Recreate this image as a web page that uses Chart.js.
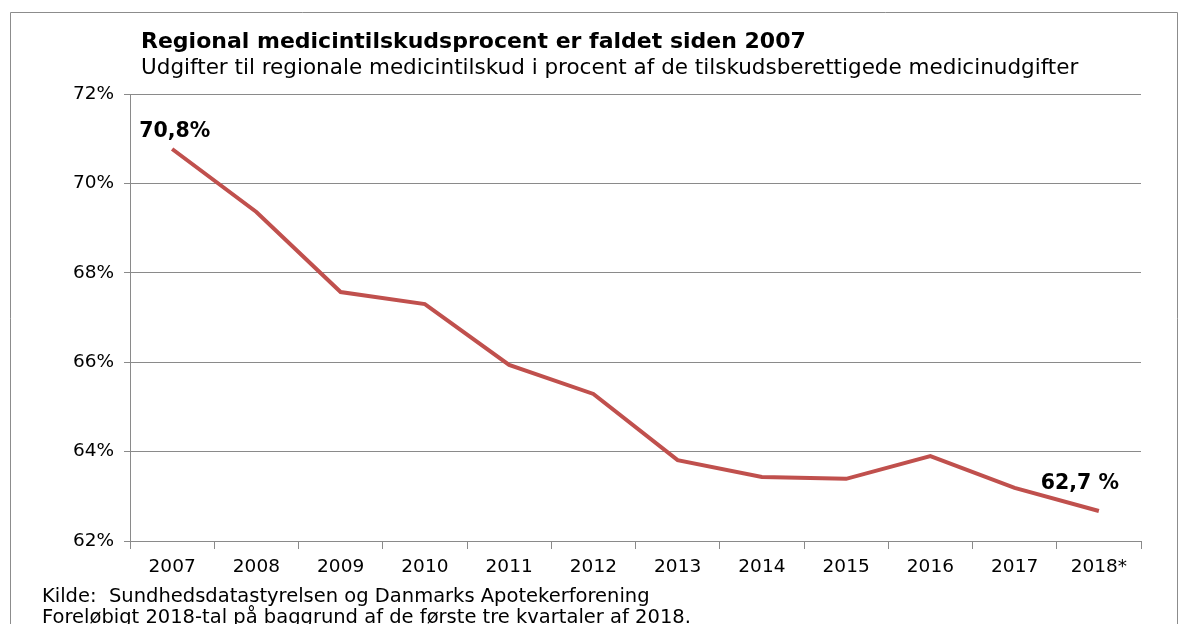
<!DOCTYPE html>
<html>
<head>
<meta charset="utf-8">
<script src="https://cdn.jsdelivr.net/npm/chart.js@4"></script>
<style>
  html, body { margin: 0; padding: 0; background: #fff; }
  #wrap { width: 1187px; height: 624px; position: relative; }
</style>
</head>
<body>
<div id="wrap"><canvas id="chart" width="1187" height="624"></canvas></div>
<script>
// Chart data
const years = ['2007', '2008', '2009', '2010', '2011', '2012', '2013', '2014', '2015', '2016', '2017', '2018*'];
const subsidyPct = [70.77, 69.36, 67.57, 67.30, 65.94, 65.29, 63.81, 63.43, 63.39, 63.90, 63.19, 62.67];
const pointLabels = ['70,8%', '', '', '', '', '', '', '', '', '', '', '62,7 %'];

const titleText = 'Regional medicintilskudsprocent er faldet siden 2007';
const subtitleText = 'Udgifter til regionale medicintilskud i procent af de tilskudsberettigede medicinudgifter';
const sourceLines = [
    'Kilde:  Sundhedsdatastyrelsen og Danmarks Apotekerforening',
    'Foreløbigt 2018-tal på baggrund af de første tre kvartaler af 2018.'
];

const FONT = '"DejaVu Sans", Verdana, sans-serif';
const GRID = '#8a8a8a';

// frame, titles and source text
const decorPlugin = {
    id: 'decor',
    beforeDraw(chart) {
        const ctx = chart.ctx;
        ctx.save();
        ctx.strokeStyle = '#8c8c8c';
        ctx.lineWidth = 1;
        ctx.beginPath();
        ctx.moveTo(10.5, 624);
        ctx.lineTo(10.5, 12.5);
        ctx.lineTo(1177.5, 12.5);
        ctx.lineTo(1177.5, 624);
        ctx.stroke();
        ctx.restore();
    },
    afterDraw(chart) {
        const ctx = chart.ctx;
        ctx.save();
        ctx.fillStyle = '#000';
        ctx.textBaseline = 'alphabetic';
        ctx.textAlign = 'left';
        ctx.font = 'bold 22px ' + FONT;
        ctx.fillText(titleText, 141, 48);
        ctx.font = '21.5px ' + FONT;
        ctx.fillText(subtitleText, 141, 74);
        ctx.font = '19.5px ' + FONT;
        ctx.fillText(sourceLines[0], 42, 602);
        ctx.fillText(sourceLines[1], 42, 623);
        ctx.restore();
    }
};

// bold value labels on first and last point
const valueLabelPlugin = {
    id: 'valueLabels',
    afterDatasetsDraw(chart) {
        const ctx = chart.ctx;
        const meta = chart.getDatasetMeta(0);
        ctx.save();
        ctx.font = 'bold 20.5px ' + FONT;
        ctx.fillStyle = '#000';
        ctx.textBaseline = 'middle';
        pointLabels.forEach((txt, i) => {
            if (!txt) return;
            const pt = meta.data[i];
            if (i === 0) {
                ctx.textAlign = 'left';
                ctx.fillText(txt, pt.x - 33, pt.y - 17);
            } else {
                ctx.textAlign = 'center';
                ctx.fillText(txt, pt.x - 19, pt.y - 27);
            }
        });
        ctx.restore();
    }
};

new Chart(document.getElementById('chart'), {
    type: 'line',
    data: {
        labels: years,
        datasets: [{
            data: subsidyPct,
            borderColor: '#c0504d',
            borderWidth: 4,
            pointRadius: 0,
            tension: 0,
            fill: false
        }]
    },
    options: {
        responsive: false,
        animation: false,
        layout: { padding: { left: 0, right: 46, top: 94, bottom: 43 } },
        plugins: {
            legend: { display: false },
            tooltip: { enabled: false }
        },
        scales: {
            x: {
                offset: true,
                grid: {
                    offset: true,
                    drawOnChartArea: false,
                    drawTicks: true,
                    tickLength: 8,
                    color: GRID
                },
                border: { color: GRID, width: 1 },
                ticks: {
                    color: '#000',
                    font: { family: FONT, size: 18.5 },
                    padding: 7,
                    maxRotation: 0
                },
                afterFit(scale) { scale.height = 40; }
            },
            y: {
                min: 62,
                max: 72,
                grid: {
                    color: GRID,
                    tickLength: 6,
                    drawTicks: true
                },
                border: { color: GRID, width: 1 },
                ticks: {
                    stepSize: 2,
                    color: '#000',
                    padding: 10,
                    font: { family: FONT, size: 18.5 },
                    callback: v => v + '%'
                },
                afterFit(scale) { scale.width = 130; }
            }
        }
    },
    plugins: [decorPlugin, valueLabelPlugin]
});
</script>
</body>
</html>
